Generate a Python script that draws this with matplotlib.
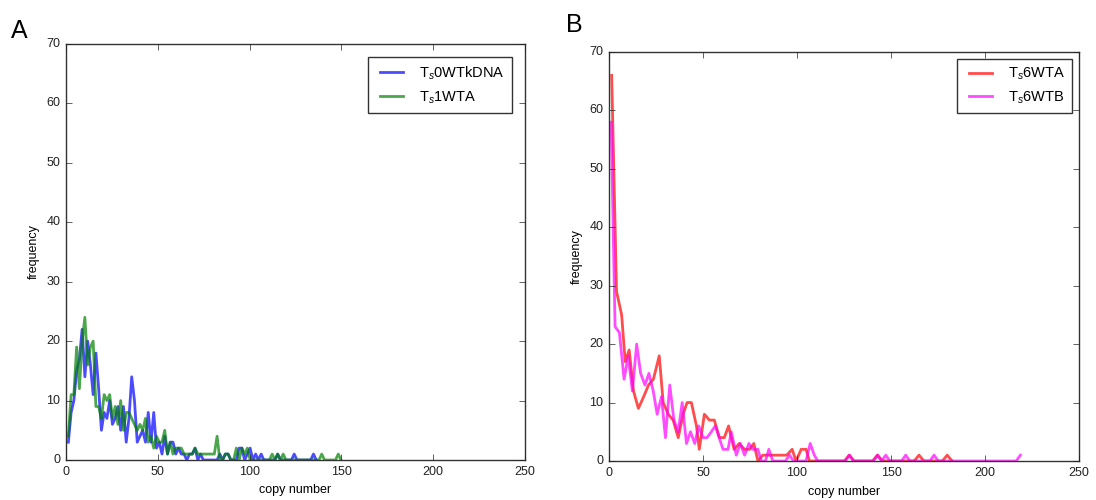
import numpy as np
import matplotlib
matplotlib.use("Agg")
import matplotlib.pyplot as plt

plt.style.use("classic")
plt.rcParams["font.family"] = ["Liberation Sans", "DejaVu Sans"]
plt.rcParams["font.size"] = 9
plt.rcParams["mathtext.fontset"] = "custom"
plt.rcParams["mathtext.rm"] = "Liberation Sans"
plt.rcParams["mathtext.it"] = "Liberation Sans:italic"

# ---- Panel A: frequency per copy-number bin (bin width 1.5) ----
bin_width_a = 1.5
first_bin_a = 1.3
freq_ts0_wtkdna = [
    3, 8, 10, 15, 17, 22, 14, 20, 16, 11, 18, 12, 5, 8, 7, 10, 6, 7, 9, 5,
    9, 3, 7, 14, 10, 3, 4, 5, 3, 8, 3, 8, 2, 3, 1, 4, 1, 3, 3, 1,
    2, 1, 1, 0, 1, 1, 2, 0, 1, 0, 0, 0, 0, 0, 0, 1, 0, 1, 1, 0,
    0, 0, 2, 2, 0, 1, 2, 0, 1, 0, 1, 0, 0, 0, 0, 0, 1, 0, 0, 0,
    0, 0, 1, 0, 0, 0, 0, 0, 0, 1, 0,
]
freq_ts1_wta = [
    4, 11, 11, 19, 12, 20, 24, 16, 19, 20, 9, 9, 7, 11, 10, 11, 7, 9, 6, 10,
    5, 8, 8, 7, 6, 5, 6, 5, 7, 3, 4, 2, 4, 3, 3, 5, 1, 3, 1, 2,
    2, 2, 1, 1, 1, 1, 2, 1, 1, 1, 1, 1, 1, 1, 4, 0, 0, 1, 1, 0,
    0, 2, 0, 2, 1, 2, 0, 0, 0, 0, 0, 0, 0, 0, 1, 0, 1, 0, 1, 0,
    0, 0, 0, 0, 0, 0, 0, 0, 0, 0, 0, 0, 1, 0, 0, 0, 0, 0, 1, 0,
]
copy_ts0 = first_bin_a + bin_width_a * np.arange(len(freq_ts0_wtkdna))
copy_ts1 = first_bin_a + bin_width_a * np.arange(len(freq_ts1_wta))

# ---- Panel B ----
copy_ts6_wta = [
    1.4, 4.0, 6.7, 8.6, 10.7, 13.0, 15.6, 18.4, 21.0, 23.6, 26.7, 28.8, 31.5,
    34.1, 36.8, 39.4, 41.5, 43.8, 46.5, 48.0, 50.7, 53.4, 56.0, 58.7, 61.3,
    63.6, 66.5, 69.3, 72.0, 74.8, 77.0, 79.2, 81.8, 84.5, 87.0, 89.5, 92.0,
    94.5, 97.4, 99.5, 102.2, 104.8, 106.6, 125.2, 127.8, 130.4, 140.2, 142.8,
    145.4, 162.3, 164.9, 167.5, 177.3, 179.9, 182.5,
]
freq_ts6_wta = [
    66, 29, 25, 17, 19, 12, 9, 11, 13, 14, 18, 10, 8,
    7, 4, 8, 10, 10, 6, 2, 8, 7, 7, 4, 4,
    6, 2, 3, 2, 2, 3, 0, 1, 1, 1, 1, 1,
    1, 2, 0, 2, 2, 0, 0, 1, 0, 0, 1,
    0, 0, 1, 0, 0, 1, 0,
]
copy_ts6_wtb = [
    1.1, 3.2, 5.5, 8.0, 10.2, 12.4, 14.7, 16.8, 19.1, 21.2, 23.5, 25.6, 27.9,
    30.0, 32.3, 34.5, 36.8, 38.9, 41.2, 43.3, 45.6, 47.7, 50.0, 52.1, 54.4,
    56.5, 58.6, 60.6, 63.3, 65.0, 67.7, 69.8, 72.1, 74.4, 76.5, 79.2, 81.0,
    83.2, 85.0, 87.1, 93.8, 96.0, 98.2, 104.8, 107.0, 109.2, 111.0, 125.6,
    127.8, 130.0, 140.6, 142.8, 145.0, 147.2, 149.4, 155.6, 157.8, 160.0,
    170.7, 172.9, 175.1, 216.6, 218.8,
]
freq_ts6_wtb = [
    58, 23, 22, 14, 18, 12, 20, 15, 13, 15, 12, 8, 11,
    4, 13, 7, 5, 10, 3, 5, 3, 6, 4, 4, 5,
    6, 4, 2, 2, 5, 1, 3, 1, 3, 2, 2, 0,
    0, 2, 0, 0, 1, 0, 0, 3, 1, 0, 0,
    1, 0, 0, 1, 0, 1, 0, 0, 1, 0,
    0, 1, 0, 0, 1,
]

fig = plt.figure(figsize=(10.96, 5.0), dpi=100, facecolor="white")
ax_a = fig.add_axes([0.0602, 0.080, 0.4188, 0.832])
ax_b = fig.add_axes([0.5557, 0.078, 0.4288, 0.818])

ax_a.plot(copy_ts0, freq_ts0_wtkdna, color="#0000ff", lw=2, alpha=0.7,
          label=r"T$_s$0WTkDNA")
ax_a.plot(copy_ts1, freq_ts1_wta, color="#008000", lw=2, alpha=0.7,
          label=r"T$_s$1WTA")
ax_b.plot(copy_ts6_wta, freq_ts6_wta, color="#ff0000", lw=2, alpha=0.7,
          label=r"T$_s$6WTA")
ax_b.plot(copy_ts6_wtb, freq_ts6_wtb, color="#ff00ff", lw=2, alpha=0.7,
          label=r"T$_s$6WTB")

for ax, pad in ((ax_a, 0.9), (ax_b, 0.45)):
    ax.set_facecolor("white")
    ax.set_xlim(0, 250)
    ax.set_ylim(0, 70)
    ax.set_xticks([0, 50, 100, 150, 200, 250])
    ax.set_yticks(range(0, 71, 10))
    ax.tick_params(labelsize=9, direction="in", length=4, colors="#222222")
    ax.set_xlabel("copy number", fontsize=9)
    ax.set_ylabel("frequency", fontsize=9)
    for s in ax.spines.values():
        s.set_color("#333333")
    leg = ax.legend(loc="upper right", fontsize=10.5, handlelength=2.2,
                    frameon=True, fancybox=False, borderpad=0.5,
                    borderaxespad=pad)
    leg.get_frame().set_edgecolor("#333333")
    leg.get_frame().set_linewidth(1.0)

fig.text(0.010, 0.925, "A", fontsize=18)
fig.text(0.516, 0.935, "B", fontsize=18)

fig.savefig("out.png", dpi=100, facecolor="white")
